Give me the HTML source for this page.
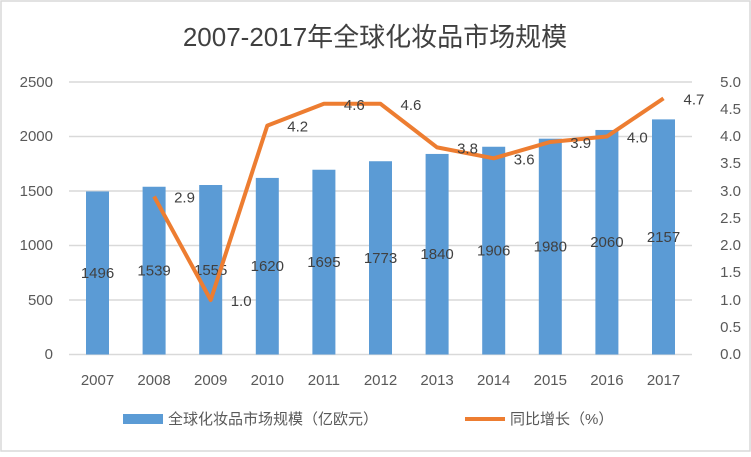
<!DOCTYPE html>
<html><head><meta charset="utf-8"><style>body{margin:0;background:#fff}</style></head><body>
<svg width="751" height="452" xmlns="http://www.w3.org/2000/svg" font-family="Liberation Sans, Noto Sans CJK SC, sans-serif">
<rect x="1" y="1" width="749" height="450" fill="#fff" stroke="#d9d9d9" stroke-width="1.5"/>
<text x="375" y="46" text-anchor="middle" font-size="26" fill="#404040">2007-2017年全球化妆品市场规模</text>
<g stroke="#d9d9d9" stroke-width="1.5">
<line x1="69" x2="692" y1="82" y2="82"/><line x1="69" x2="692" y1="136.5" y2="136.5"/><line x1="69" x2="692" y1="191" y2="191"/><line x1="69" x2="692" y1="245.5" y2="245.5"/><line x1="69" x2="692" y1="300" y2="300"/><line x1="69" x2="692" y1="354.5" y2="354.5"/>
</g>
<g font-size="15" fill="#595959" text-anchor="end">
<text x="53" y="87">2500</text><text x="53" y="141">2000</text><text x="53" y="196">1500</text><text x="53" y="250">1000</text><text x="53" y="305">500</text><text x="53" y="359">0</text>
</g>
<g font-size="15" fill="#595959" text-anchor="end">
<text x="741" y="87">5.0</text><text x="741" y="114">4.5</text><text x="741" y="141">4.0</text><text x="741" y="168">3.5</text><text x="741" y="196">3.0</text><text x="741" y="223">2.5</text><text x="741" y="250">2.0</text><text x="741" y="277">1.5</text><text x="741" y="305">1.0</text><text x="741" y="332">0.5</text><text x="741" y="359">0.0</text>
</g>
<g fill="#5b9bd5" id="bars"></g>
<g id="labels" font-size="15" fill="#404040" text-anchor="middle"></g>
<g id="xl" font-size="15" fill="#595959" text-anchor="middle"></g>
<polyline id="line" fill="none" stroke="#ed7d31" stroke-width="4" stroke-linejoin="round"/>
<g id="ll" font-size="15" fill="#404040"></g>
<rect x="123" y="414" width="40" height="10" fill="#5b9bd5"/>
<text x="168" y="424" font-size="15" fill="#595959">全球化妆品市场规模（亿欧元）</text>
<line x1="465" x2="505" y1="419" y2="419" stroke="#ed7d31" stroke-width="4"/>
<text x="510" y="424" font-size="15" fill="#595959">同比增长（%）</text>
</svg>
<script>
const v=[1496,1539,1555,1620,1695,1773,1840,1906,1980,2060,2157];
const g=[null,2.9,1.0,4.2,4.6,4.6,3.8,3.6,3.9,4.0,4.7];
const ns="http://www.w3.org/2000/svg";
const y0=354.5,s=272.5/2500,rs=272.5/5;
let pts=[];
function el(p,t,a,txt){const e=document.createElementNS(ns,t);for(const k in a)e.setAttribute(k,a[k]);if(txt)e.textContent=txt;document.getElementById(p).appendChild(e);}
v.forEach((d,i)=>{const cx=97.5+i*56.6;const h=d*s;
el('bars','rect',{x:cx-11.5,y:y0-h,width:23,height:h});
el('labels','text',{x:cx,y:y0-h/2+5},String(d));
el('xl','text',{x:cx,y:385},String(2007+i));
if(g[i]!=null){const y=y0-g[i]*rs;pts.push(cx+','+y);el('ll','text',{x:cx+20,y:y+6},g[i].toFixed(1));}
});
document.getElementById('line').setAttribute('points',pts.join(' '));
</script>
</body></html>
